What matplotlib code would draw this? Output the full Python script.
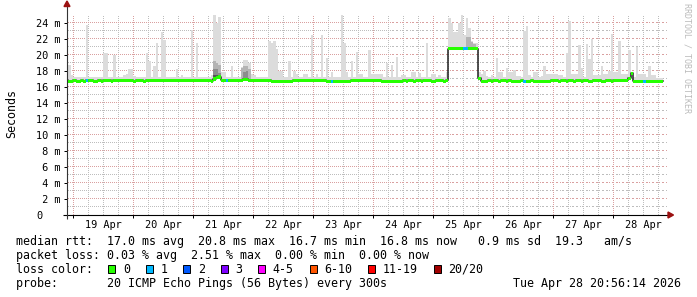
import matplotlib
matplotlib.use('Agg')
import matplotlib.pyplot as plt
from matplotlib.patches import Rectangle, Polygon
from matplotlib.transforms import offset_copy, blended_transform_factory
import numpy as np

# ------------------------------------------------------------------ data
# hourly bins, hour offsets relative to 19 Apr 00:00
bin_first, bin_last = -3, 235
x_start, x_end = -2.52, 237.48          # 18 Apr ~21:00 .. 28 Apr ~21:00

median_base = 16.85                      # typical median rtt (ms)
median_low = 16.72
median_low_bins = [-2, -1, 1, 2, 4, 8, 9, 11, 15, 24, 28, 55,
                   79, 80, 81, 82, 83, 84, 85, 86, 87,
                   101, 102, 103, 104, 105, 106, 107, 108, 109, 110,
                   123, 124, 125, 126, 127, 128, 129, 130, 131, 133, 136, 139,
                   143, 144, 148, 163, 164, 165, 167, 170, 173, 175, 176, 177,
                   178, 180, 181, 182, 184, 185, 186, 187, 188, 189, 190, 194,
                   197, 200, 203, 206, 207, 211, 212, 215,
                   224, 225, 226, 227, 228, 229, 230, 231, 232, 233, 234, 235]
median_special_bins = [56, 57, 58, 68, 69,
                       150, 151, 152, 153, 154, 155, 156, 157, 158, 159, 160, 161,
                       162, 222, 223]
median_special_vals = [17.0, 17.15, 17.25, 16.95, 16.95,
                       20.8, 20.8, 20.8, 20.8, 20.8, 20.8, 20.8, 20.8, 20.8, 20.8, 20.8, 20.8,
                       17.1, 17.1, 17.7]
loss1_bins = [5, 61, 103, 156, 157, 180, 228]

smoke_floor_top = 17.2
smoke_bins = [-2, -1, 1, 5, 12, 13, 16, 20, 21, 22, 23, 24, 29, 30, 32, 33, 35, 36,
              41, 43, 47, 49, 52, 53, 55, 56, 57, 58, 59, 60, 63, 67, 68, 69, 70,
              71, 72, 78, 79, 80, 81, 82, 83, 86, 88, 89, 92, 93, 95, 97, 99, 101,
              103, 107, 108, 109, 111, 113, 114, 115, 118, 119, 120, 121, 122, 123,
              125, 127, 129, 131, 132, 135, 136, 138, 141, 143, 144, 146, 149,
              150, 151, 152, 153, 154, 155, 156, 157, 158, 159, 160, 161,
              162, 163, 164, 165, 167, 169, 170, 171, 173, 174, 175, 176, 177, 178,
              180, 181, 182, 184, 185, 187, 188, 189, 190, 191, 192, 193, 194, 195,
              197, 198, 199, 200, 201, 202, 203, 205, 206, 207, 208, 209, 210, 211,
              212, 213, 214, 215, 216, 217, 218, 219, 220, 221, 222, 223, 225, 226,
              227, 228, 230, 231, 232, 233, 234, 235]
smoke_tops = [18.8, 17.5, 17.3, 23.8, 20.3, 20.3, 20.0, 17.5, 17.6, 18.2, 18.2, 17.4,
              20.3, 19.3, 18.6, 21.5, 22.9, 21.9,
              18.3, 17.5, 23.1, 21.5, 17.3, 17.3, 17.5, 25.0, 24.0, 24.8, 17.9, 17.9,
              18.6, 18.5, 19.4, 19.4, 19.0,
              17.6, 17.5, 21.7, 21.5, 21.7, 20.8, 18.0, 18.0, 19.2, 18.0, 17.6, 17.6,
              17.6, 22.5, 17.6, 22.5, 19.6,
              17.9, 25.0, 21.5, 17.9, 19.2, 20.4, 17.6, 17.6, 20.6, 17.6, 17.6, 17.6,
              17.6, 17.6,
              19.0, 18.7, 19.8, 17.5, 17.5, 17.9, 17.9, 17.7, 21.5, 17.6, 17.6, 17.5, 17.9,
              24.6, 24.0, 22.9, 22.9, 24.0, 25.0, 22.5, 24.6, 23.4, 21.7, 21.5, 21.5,
              17.9, 17.6, 18.0, 17.4, 17.5, 19.6, 17.9, 17.9, 18.4, 17.9, 17.9, 18.1,
              17.4, 17.4,
              23.0, 23.6, 17.5, 17.9, 17.9, 17.4, 18.6, 17.6, 17.6, 17.6, 17.6, 17.6,
              17.5, 17.5,
              20.3, 24.2, 17.6, 17.6, 17.6, 21.3, 18.4, 21.4, 19.5, 22.0, 17.5, 17.5,
              17.5, 18.6,
              17.6, 17.6, 18.0, 22.6, 17.9, 17.9, 21.7, 17.6, 17.6, 17.6, 20.6, 17.9,
              21.0, 17.6,
              17.6, 17.6, 18.6, 17.5, 17.5, 17.1, 17.1, 17.1]
smoke_mid_bins = [56, 57, 58, 67, 68, 69, 70, 157, 158, 159, 160]
smoke_mid_tops = [19.2, 19.0, 18.8, 18.4, 18.6, 18.6, 18.3, 22.3, 22.3, 21.6, 21.4]
smoke_dark_bins = [56, 57, 58, 68, 69]
smoke_dark_tops = [18.3, 18.2, 17.8, 17.9, 18.0]
smoke_black_bins = [56, 57]
smoke_black_tops = [17.5, 17.5]

day_labels = ['19 Apr', '20 Apr', '21 Apr', '22 Apr', '23 Apr',
              '24 Apr', '25 Apr', '26 Apr', '27 Apr', '28 Apr']
y_values = [0, 2, 4, 6, 8, 10, 12, 14, 16, 18, 20, 22, 24]

loss_labels = ['0', '1', '2', '3', '4-5', '6-10', '11-19', '20/20']
loss_colors = ['#26ff00', '#00b8ff', '#0059ff', '#7e00ff', '#ff00ff',
               '#ff5500', '#ff0000', '#a10000']

legend_line1 = "median rtt:  17.0 ms avg  20.8 ms max  16.7 ms min  16.8 ms now   0.9 ms sd  19.3   am/s"
legend_line2 = "packet loss: 0.03 % avg  2.51 % max  0.00 % min  0.00 % now"
legend_line3 = "loss color:"
legend_line4 = "probe:       20 ICMP Echo Pings (56 Bytes) every 300s"
timestamp = "Tue Apr 28 20:56:14 2026"
watermark = "RRDTOOL / TOBI OETIKER"
ylabel = "Seconds"

# ------------------------------------------------------------------ build series
hours = np.arange(bin_first, bin_last + 1)
idx = lambda b: np.asarray(b) - bin_first
median = np.full(hours.size, median_base)
median[idx(median_low_bins)] = median_low
median[idx(median_special_bins)] = median_special_vals
smoke_top = np.full(hours.size, smoke_floor_top)
smoke_top[idx(smoke_bins)] = smoke_tops
band = 0.19
smoke_bottom = median - band

# ------------------------------------------------------------------ figure
W, H, DPI = 697, 297, 100
fig = plt.figure(figsize=(W / DPI, H / DPI), dpi=DPI, facecolor='white')
L, R, T, B = 67.0, 667.0, 15.0, 215.0
ax = fig.add_axes([L / W, 1 - B / H, (R - L) / W, (B - T) / H])
ax.set_facecolor('white')
ax.set_xlim(x_start, x_end)
ax.set_ylim(0, 25)

MONO = 'DejaVu Sans Mono'
GRID = '#bdbdbd'
MGRID = '#d9a0a0'

major_x = np.arange(0, 240, 24)
minor_x = np.array([h for h in range(6, 237, 6) if h % 24])
ax.set_xticks(major_x)
ax.set_yticks(y_values)
ax.tick_params(which='major', direction='out', length=2.2, width=0.72,
               color='black', labelbottom=False, labelleft=False)
for s in ax.spines.values():
    s.set_visible(False)

# dotted grid drawn as single pixels every 2 px (rrdtool style)
px_h = x_start + np.arange(0.5, 600, 2) / 2.5     # hours along a horizontal line
px_v = np.arange(0.5, 200, 2) / 8.0                # values along a vertical line
def hgrid(vals, col):
    xs = np.tile(px_h, len(vals)); ys = np.repeat(vals, px_h.size)
    ax.plot(xs, ys, ls='none', marker=',', color=col, zorder=0.5)
def vgrid(hrs, col):
    xs = np.repeat(hrs, px_v.size); ys = np.tile(px_v, len(hrs))
    ax.plot(xs, ys, ls='none', marker=',', color=col, zorder=0.5)
hgrid([v for v in range(1, 26) if v % 2], GRID)
vgrid(minor_x, GRID)
hgrid([v for v in y_values if v > 0], MGRID)
vgrid(major_x, MGRID)

# smoke
ax.bar(hours, smoke_top - smoke_bottom, bottom=smoke_bottom, width=1.0, align='edge',
       color='#dcdcdc', lw=0, antialiased=False, zorder=1)
for bins, tops, col in [(smoke_mid_bins, smoke_mid_tops, '#b4b4b4'),
                        (smoke_dark_bins, smoke_dark_tops, '#8c8c8c'),
                        (smoke_black_bins, smoke_black_tops, '#555555')]:
    base = median[idx(bins)]
    ax.bar(bins, np.asarray(tops) - base, bottom=base, width=1.0, align='edge',
           color=col, lw=0, antialiased=False, zorder=1.5)

# median: dark line + loss-colored band
edges = np.append(hours, hours[-1] + 1)
ax.step(edges, np.append(median, median[-1]), where='post', color='#202020',
        lw=1.1, zorder=2)
colors = np.array([loss_colors[0]] * hours.size, dtype=object)
colors[idx(loss1_bins)] = loss_colors[1]
ax.bar(hours, 2 * band, bottom=median - band, width=1.0, align='edge',
       color=list(colors), lw=0, antialiased=False, zorder=3)

# axes lines and arrows
ax.plot([(62.5 - L) / (R - L), (669 - L) / (R - L)], [0, 0], transform=ax.transAxes,
        color='black', lw=0.8, clip_on=False, zorder=5, solid_capstyle='butt')
ax.plot([0, 0], [(B - 219) / (B - T), (B - 6) / (B - T)], transform=ax.transAxes,
        color='#333333', lw=0.8, clip_on=False, zorder=5, solid_capstyle='butt')
ax.add_patch(Polygon([(668 / W, 1 - 212 / H), (668 / W, 1 - 218 / H), (673.5 / W, 1 - 215 / H)],
                     closed=True, transform=fig.transFigure, color='#9b1010', clip_on=False, zorder=6))
ax.add_patch(Polygon([(64.0 / W, 1 - 6.5 / H), (70.0 / W, 1 - 6.5 / H), (67.0 / W, 1 - 1 / H)],
                     closed=True, transform=fig.transFigure, color='#9b1010', clip_on=False, zorder=6))

# y tick labels
ytr = offset_copy(blended_transform_factory(ax.transAxes, ax.transData), fig=fig,
                  x=0, y=-3.7, units='dots')
for v in y_values:
    lab = f"{v:2d} m" if v else "0"
    ax.text((36 - L) / (R - L), v, lab, transform=ytr, ha='left', va='baseline',
            fontsize=7.4, family=MONO, color='black', clip_on=False)

# x day labels at noon
xtr = offset_copy(blended_transform_factory(ax.transData, ax.transAxes), fig=fig,
                  x=0, y=-13.3, units='dots')
for i, lab in enumerate(day_labels):
    ax.text(12 + 24 * i, 0, lab, transform=xtr, ha='center', va='baseline',
            fontsize=7.4, family=MONO, color='black', clip_on=False)

fig.text(12 / W, 1 - 113.5 / H, ylabel, rotation=90, ha='center', va='center',
         fontsize=8.4, family=MONO, color='black')
fig.text(687.5 / W, 1 - 3 / H, watermark, rotation=270, ha='center', va='top',
         fontsize=6.0, family=MONO, color='#bbbbbb')

# legend block
LEG = 8.4
ADV = 7.03
baselines = [245.0, 258.5, 272.6, 286.6]
for line, yb in zip([legend_line1, legend_line2, legend_line3, legend_line4], baselines):
    fig.text(16 / W, 1 - yb / H, line, ha='left', va='baseline', fontsize=LEG,
             family=MONO, color='black')
fig.text(681 / W, 1 - baselines[3] / H, timestamp, ha='right', va='baseline',
         fontsize=LEG, family=MONO, color='black')

bx = 108.3
for lab, col in zip(loss_labels, loss_colors):
    fig.add_artist(Rectangle((bx / W, 1 - 273.3 / H), 7 / W, 8 / H, transform=fig.transFigure,
                             facecolor=col, edgecolor='black', lw=0.7))
    lx = bx + 14.8
    fig.text(lx / W, 1 - baselines[2] / H, lab, ha='left', va='baseline', fontsize=LEG,
             family=MONO, color='black')
    bx = lx + len(lab) * ADV + 15.6

fig.savefig('out.png', dpi=DPI, facecolor='white')
